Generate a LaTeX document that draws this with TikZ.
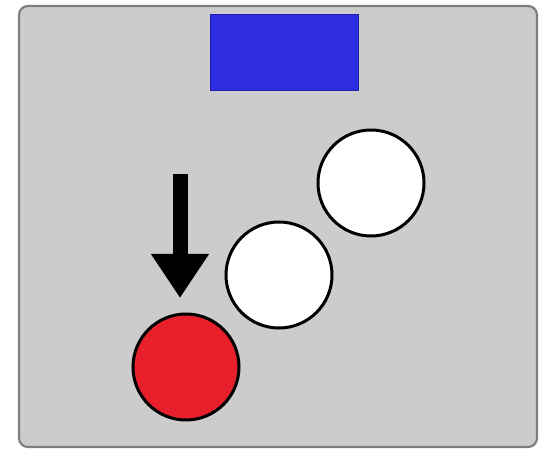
\documentclass[tikz,border=0pt]{standalone}
\usepackage{tikz}
\usetikzlibrary{arrows.meta,positioning}
\definecolor{panelgray}{HTML}{CCCCCC}
\definecolor{framegray}{HTML}{7F7F7F}
\definecolor{barblue}{HTML}{2E2CE0}
\definecolor{barline}{HTML}{1F1FA8}
\definecolor{ballred}{HTML}{E8202C}
\tikzset{
  ball/.style={circle,draw=black,line width=3pt,fill=#1,minimum size=106pt,inner sep=0pt},
  ball/.default={white},
  drop/.style={line width=15pt,-{Triangle[length=44pt,width=55pt]}},
}
\begin{document}
\begin{tikzpicture}[x=1pt,y=-1pt]
 \useasboundingbox (0,0) rectangle (539,449);
 % ---- panel
 \draw[fill=panelgray,draw=framegray,line width=2.2pt,rounded corners=9pt] (19,6) rectangle (537,447);
 % ---- blue bar
 \node[draw=barline,fill=barblue,line width=1pt,minimum width=148pt,minimum height=76pt,inner sep=0pt] (bar) at (284.5,52.5){};
 % ---- balls
 \node[ball] (upper) at (371,183){};
 \node[ball] (middle) at (279,275){};
 \node[ball=ballred] (red) at (186,367){};
 % ---- arrow
 \coordinate (top) at (180,174);
 \coordinate (tip) at (180,298);
 \draw[drop] (top)--(tip);
\end{tikzpicture}
\end{document}
